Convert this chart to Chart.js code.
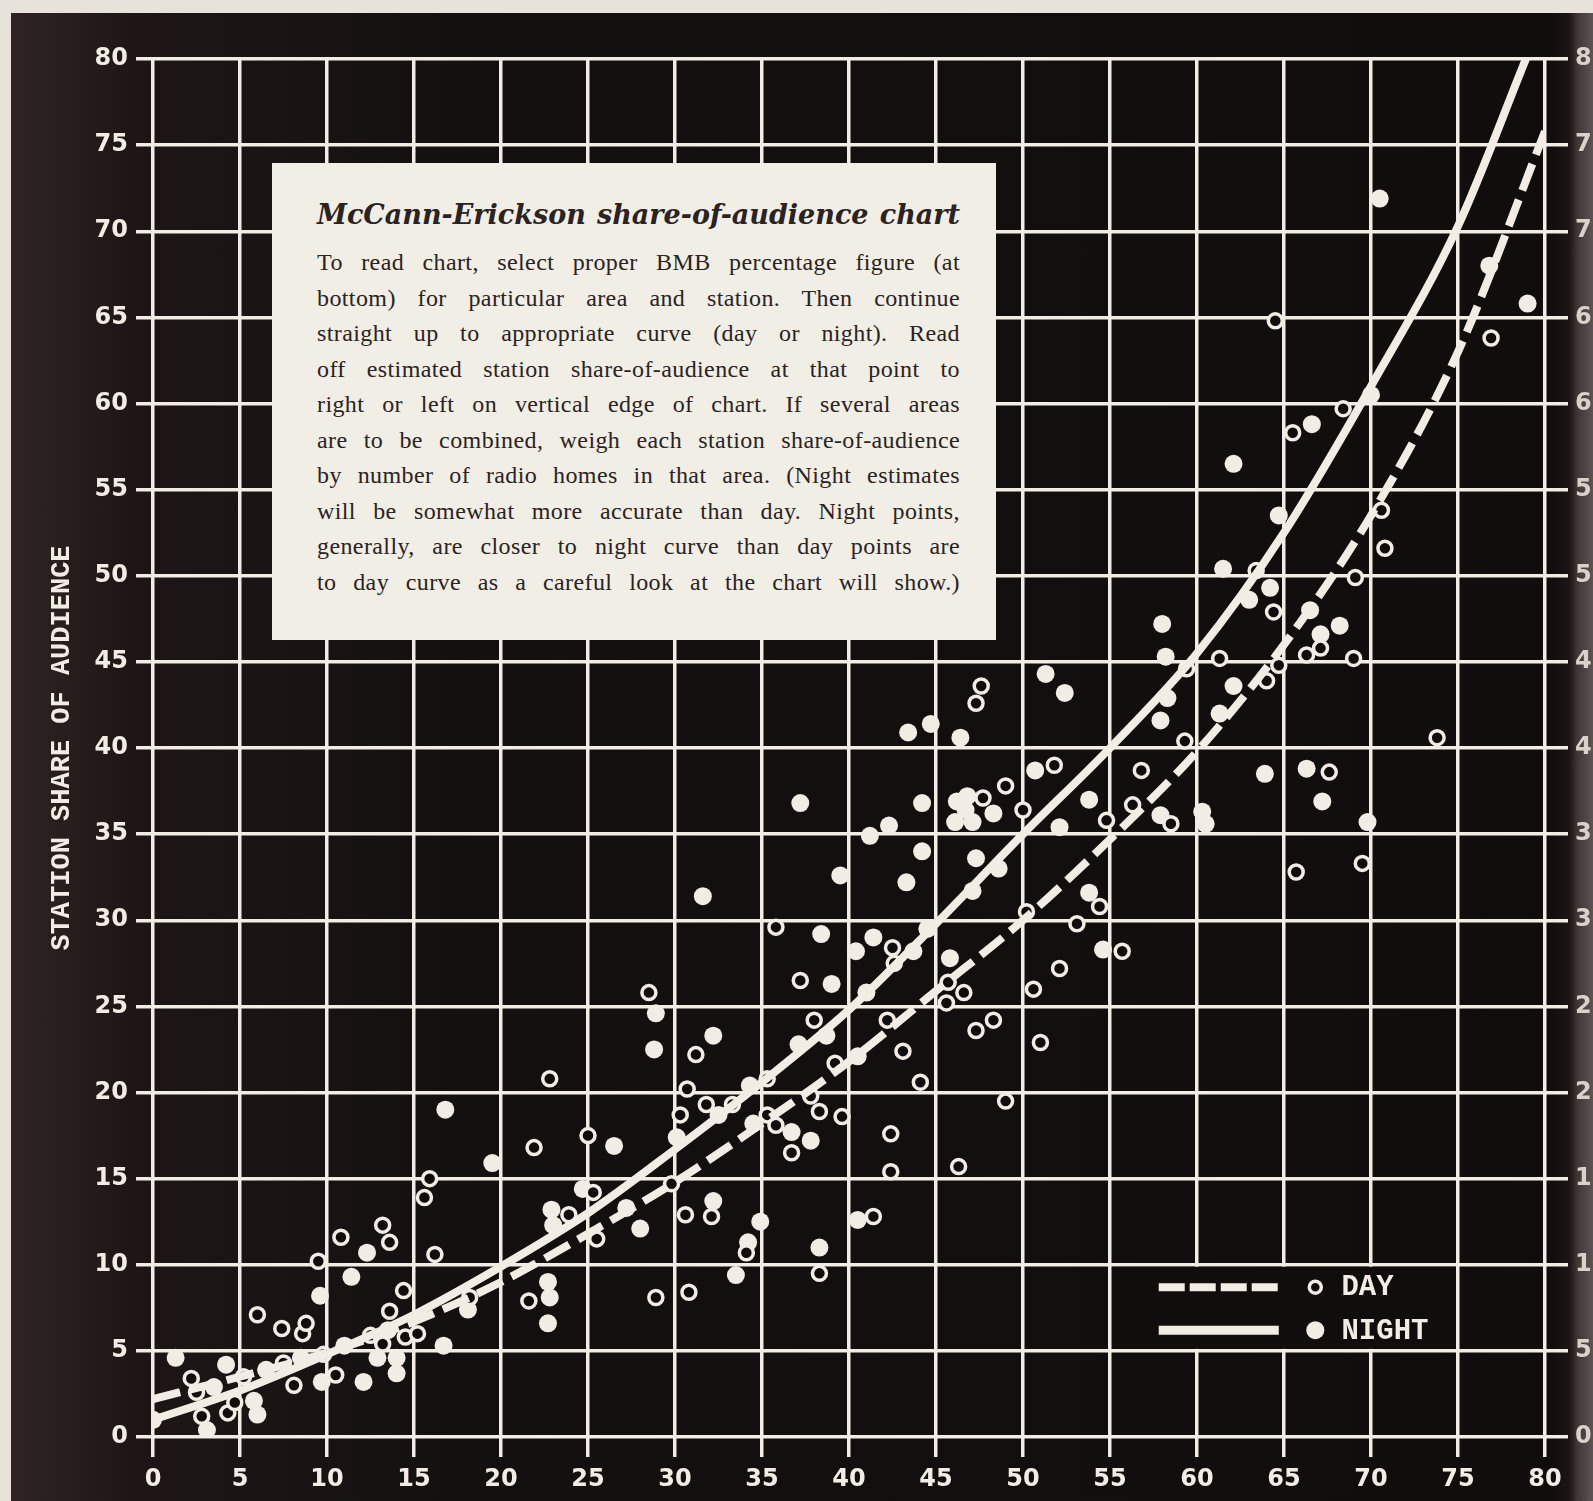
<!DOCTYPE html>
<html>
<head>
<meta charset="utf-8">
<script src="https://cdn.jsdelivr.net/npm/chart.js@4.4.0/dist/chart.umd.min.js"></script>
<style>
  html, body { margin: 0; padding: 0; }
  body { width: 1593px; height: 1501px; position: relative; overflow: hidden; background: #e7e3db; }
  #panel {
    position: absolute; left: 11px; top: 13px; width: 1582px; height: 1488px;
    background: linear-gradient(90deg, #2f2423 0px, #1e1616 120px, #141010 460px, #110d0d 1540px,
                                #1c1515 1558px, #3e3534 1566px, #5c5452 1582px);
  }
  #chart { position: absolute; left: 0; top: 0; }
  #note {
    position: absolute; left: 272px; top: 163px; width: 724px; height: 477px;
    background: #f1eee6; box-sizing: border-box; padding: 0 36px 0 45px;
    color: #2a2321;
  }
  #note .ttl {
    margin-top: 36px; height: 34px; line-height: 34px;
    font: italic bold 27px "DejaVu Serif", serif;
    text-align: justify; text-align-last: justify;
  }
  #note .ln {
    height: 35.5px; line-height: 35.5px;
    font: 24px "Liberation Serif", serif; letter-spacing: 0.4px;
    text-align: justify; text-align-last: justify;
  }
  #note .first { margin-top: 16px; }
</style>
</head>
<body>
<div id="panel"></div>
<canvas id="chart" width="1593" height="1501"></canvas>
<div id="note">
  <div class="ttl">McCann-Erickson share-of-audience chart</div>
  <div class="ln first">To read chart, select proper BMB percentage figure (at</div>
  <div class="ln">bottom) for particular area and station. Then continue</div>
  <div class="ln">straight up to appropriate curve (day or night). Read</div>
  <div class="ln">off estimated station share-of-audience at that point to</div>
  <div class="ln">right or left on vertical edge of chart. If several areas</div>
  <div class="ln">are to be combined, weigh each station share-of-audience</div>
  <div class="ln">by number of radio homes in that area. (Night estimates</div>
  <div class="ln">will be somewhat more accurate than day. Night points,</div>
  <div class="ln">generally, are closer to night curve than day points are</div>
  <div class="ln">to day curve as a careful look at the chart will show.)</div>
</div>
<script>
/* ---------- data (BMB % -> station share of audience) ---------- */
const axisTicks = [0, 5, 10, 15, 20, 25, 30, 35, 40, 45, 50, 55, 60, 65, 70, 75, 80];

// fitted curves
const nightCurveX = [0, 5, 10, 15, 20, 25, 30, 35, 40, 45, 50, 55, 60, 65, 70, 75, 78.9];
const nightCurveY = [1.0, 2.7, 4.8, 7.1, 9.9, 13.0, 16.7, 20.6, 24.8, 29.8, 35.0, 40.0, 45.5, 52.5, 61.0, 70.3, 80];
const dayCurveX = [0, 5, 10, 15, 20, 25, 30, 35, 40, 45, 50, 55, 60, 65, 70, 75, 80];
const dayCurveY = [2.2, 3.5, 4.9, 6.7, 9.0, 11.8, 14.8, 18.2, 21.8, 25.9, 30.0, 34.7, 39.8, 46.0, 53.5, 63.0, 75.8];

// observed stations, day (open circles)
const dayPts = [
  [21.9,16.8],[15.9,15.0],[15.6,13.9],[13.2,12.3],[13.6,11.3],[10.8,11.6],[9.5,10.2],[16.2,10.6],
  [14.4,8.5],[6.0,7.1],[7.4,6.3],[8.6,6.0],[8.8,6.6],[13.6,7.3],[14.5,5.8],[15.2,6.0],[13.2,5.4],
  [18.2,8.1],[21.6,7.9],[2.2,3.4],[2.8,1.2],[4.3,1.4],[4.7,2.0],[8.1,3.0],[10.5,3.6],[2.5,2.6],
  [5.2,3.5],[7.5,4.3],[9.8,4.8],[12.5,5.9],
  [35.8,29.6],[42.5,28.4],[42.6,27.5],[37.2,26.5],[28.5,25.8],[38.0,24.2],[42.2,24.2],[31.2,22.2],
  [39.2,21.7],[22.8,20.8],[30.7,20.2],[35.3,20.8],[31.8,19.3],[33.3,19.3],[30.3,18.7],[35.3,18.7],
  [35.8,18.1],[37.8,19.8],[38.3,18.9],[39.6,18.6],[36.7,16.5],[42.4,17.6],[42.4,15.4],[25.0,17.5],
  [25.3,14.2],[23.9,12.9],[25.5,11.5],[30.6,12.9],[32.1,12.8],[34.1,10.7],[38.3,9.5],[41.4,12.8],
  [28.9,8.1],[30.8,8.4],[29.8,14.7],
  [47.6,43.6],[47.3,42.6],[51.8,39.0],[56.8,38.7],[49.0,37.8],[47.7,37.1],[50.0,36.4],[54.8,35.8],
  [56.3,36.7],[54.4,30.8],[50.2,30.5],[53.1,29.8],[55.7,28.2],[52.1,27.2],[50.6,26.0],[45.7,26.4],
  [46.6,25.8],[45.6,25.2],[47.3,23.6],[48.3,24.2],[43.1,22.4],[51.0,22.9],[44.1,20.6],[49.0,19.5],
  [46.3,15.7],
  [63.4,50.3],[64.4,47.9],[69.1,49.9],[67.1,45.8],[66.3,45.4],[69.0,45.2],[61.3,45.2],[64.7,44.8],
  [64.0,43.9],[59.4,44.6],[59.3,40.4],[73.8,40.6],[67.6,38.6],[58.5,35.6],[69.5,33.3],[65.7,32.8],
  [64.5,64.8],[76.9,63.8],[68.4,59.7],[65.5,58.3],[70.6,53.8],[70.8,51.6]
];

// observed stations, night (filled circles)
const nightPts = [
  [16.8,19.0],[19.5,15.9],[22.9,13.2],[23.0,12.3],[12.3,10.7],[11.4,9.3],[9.6,8.2],[16.7,5.3],
  [18.1,7.4],[22.7,9.0],[22.8,8.1],[22.7,6.6],[1.3,4.6],[4.2,4.2],[3.1,0.4],[6.0,1.3],[5.8,2.1],
  [0.0,1.0],[9.7,3.2],[12.1,3.2],[14.0,3.7],[14.0,4.6],[12.9,4.6],[3.5,2.9],[6.5,3.9],[8.5,4.6],
  [11.0,5.3],[13.5,6.2],
  [39.5,32.6],[31.6,31.4],[38.4,29.2],[41.4,29.0],[40.4,28.2],[39.0,26.3],[41.0,25.8],[28.9,24.6],
  [32.2,23.3],[37.1,22.8],[38.7,23.3],[28.8,22.5],[40.5,22.1],[34.3,20.4],[32.5,18.7],[34.5,18.2],
  [36.7,17.7],[37.8,17.2],[30.1,17.4],[26.5,16.9],[24.7,14.4],[27.2,13.3],[28.0,12.1],[32.2,13.7],
  [34.9,12.5],[34.2,11.3],[33.5,9.4],[38.3,11.0],[40.5,12.6],
  [51.3,44.3],[52.4,43.2],[43.4,40.9],[44.7,41.4],[46.4,40.6],[50.7,38.7],[37.2,36.8],[44.2,36.8],
  [46.2,36.9],[46.8,37.2],[46.1,35.7],[47.1,35.7],[48.3,36.2],[46.7,36.4],[42.3,35.5],[41.2,34.9],
  [53.8,37.0],[52.1,35.4],[44.2,34.0],[47.3,33.6],[48.6,33.0],[43.3,32.2],[47.1,31.7],[53.8,31.6],
  [54.6,28.3],[44.5,29.5],[43.7,28.2],[45.8,27.8],
  [61.5,50.4],[64.2,49.3],[63.0,48.6],[66.5,48.0],[68.2,47.1],[67.1,46.6],[58.0,47.2],[58.2,45.3],
  [58.3,42.9],[57.9,41.6],[62.1,43.6],[61.3,42.0],[63.9,38.5],[66.3,38.8],[67.2,36.9],[69.8,35.7],
  [57.9,36.1],[60.3,36.3],[60.5,35.6],
  [70.5,71.9],[76.8,68.0],[79.0,65.8],[70.0,60.5],[66.6,58.8],[62.1,56.5],[64.7,53.5]
];

const ink = "#f1ede5";
const dark = "#120d0d";

const toXY = (xs, ys) => xs.map((x, i) => ({ x, y: ys[i] }));
const pairs = arr => arr.map(p => ({ x: p[0], y: p[1] }));

/* ---------- legend box inside the grid (55..75 / 5..10) ---------- */
const legendBox = {
  id: "legendBox",
  beforeDatasetsDraw(chart) {
    const { ctx, scales: { x, y } } = chart;
    const l = x.getPixelForValue(55) + 2, r = x.getPixelForValue(75) - 2;
    const t = y.getPixelForValue(10) + 2, b = y.getPixelForValue(5) - 2;
    ctx.save();
    ctx.fillStyle = dark;
    ctx.fillRect(l, t, r - l, b - t);

    const y1 = y.getPixelForValue(8.7), y2 = y.getPixelForValue(6.2);
    const x0 = x.getPixelForValue(57.8), x1 = x.getPixelForValue(64.7);
    const cx = x.getPixelForValue(66.8), tx = x.getPixelForValue(68.3);

    ctx.strokeStyle = ink;
    ctx.lineWidth = 8;
    ctx.setLineDash([26, 5]);
    ctx.beginPath(); ctx.moveTo(x0, y1); ctx.lineTo(x1, y1); ctx.stroke();
    ctx.setLineDash([]);
    ctx.lineWidth = 9;
    ctx.beginPath(); ctx.moveTo(x0, y2); ctx.lineTo(x1, y2); ctx.stroke();

    ctx.lineWidth = 3.5;
    ctx.beginPath(); ctx.arc(cx, y1, 6, 0, Math.PI * 2); ctx.stroke();
    ctx.fillStyle = ink;
    ctx.beginPath(); ctx.arc(cx, y2, 9, 0, Math.PI * 2); ctx.fill();

    ctx.font = 'bold 29px "Liberation Mono", monospace';
    ctx.textBaseline = "middle";
    ctx.textAlign = "left";
    ctx.fillText("DAY", tx, y1 + 1);
    ctx.fillText("NIGHT", tx, y2 + 1);
    ctx.restore();
  }
};

const tickFont = { family: '"DejaVu Sans", sans-serif', size: 24, weight: "bold" };
const gridOpts = { color: ink, lineWidth: 3.5 };

new Chart(document.getElementById("chart"), {
  type: "scatter",
  data: {
    datasets: [
      { label: "Night curve", data: toXY(nightCurveX, nightCurveY), showLine: true,
        borderColor: ink, borderWidth: 8, pointRadius: 0, cubicInterpolationMode: "monotone", borderCapStyle: "round" },
      { label: "Day curve", data: toXY(dayCurveX, dayCurveY), showLine: true,
        borderColor: ink, borderWidth: 8, borderDash: [28, 10], pointRadius: 0, cubicInterpolationMode: "monotone" },
      { label: "DAY", data: pairs(dayPts), pointRadius: 7, pointBorderWidth: 3.5,
        pointBorderColor: ink, pointBackgroundColor: dark },
      { label: "NIGHT", data: pairs(nightPts), pointRadius: 9, pointBorderWidth: 0,
        pointBackgroundColor: ink }
    ]
  },
  options: {
    responsive: false,
    animation: false,
    layout: { padding: { top: 59 } },
    plugins: { legend: { display: false }, tooltip: { enabled: false } },
    scales: {
      x: {
        type: "linear", min: 0, max: 80,
        afterBuildTicks: s => { s.ticks = axisTicks.map(v => ({ value: v })); },
        ticks: { color: ink, font: tickFont, padding: 8 },
        grid: { ...gridOpts, tickLength: 20 },
        border: { display: false },
        afterFit: s => { s.height = 64; }
      },
      y: {
        position: "left", min: 0, max: 80,
        afterBuildTicks: s => { s.ticks = axisTicks.map(v => ({ value: v })); },
        ticks: { color: ink, font: tickFont, padding: 8 },
        grid: { ...gridOpts, tickLength: 17 },
        border: { display: false },
        title: { display: true, text: "STATION SHARE OF AUDIENCE", color: ink,
                 font: { family: '"Liberation Mono", monospace', size: 27, weight: "bold" },
                 padding: { top: 46, bottom: 0 } },
        afterFit: s => { s.width = 153; }
      },
      y2: {
        position: "right", min: 0, max: 80,
        afterBuildTicks: s => { s.ticks = axisTicks.map(v => ({ value: v })); },
        ticks: { color: "#d8d2cb", font: tickFont, padding: 7 },
        grid: { ...gridOpts, drawOnChartArea: false, tickLength: 23 },
        border: { display: false },
        afterFit: s => { s.width = 48; }
      }
    }
  },
  plugins: [legendBox]
});
</script>
</body>
</html>
